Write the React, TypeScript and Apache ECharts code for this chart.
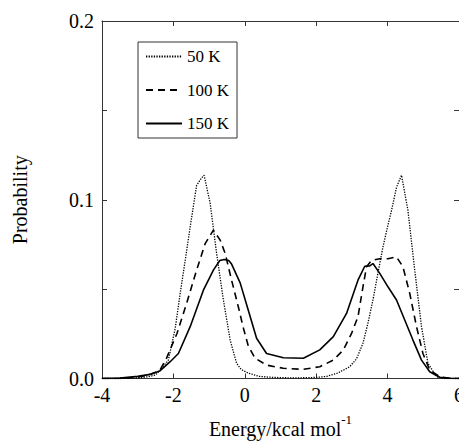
import React, { useEffect, useRef } from "react";
import * as echarts from "echarts";

const FONT = "Liberation Serif";

const seriesNames = ["50 K", "100 K", "150 K"];

const energy50 = [-4, -3.5, -3.0, -2.7, -2.5, -2.37, -2.14, -1.95, -1.81, -1.67, -1.53, -1.35, -1.22, -1.14, -0.97, -0.79, -0.6, -0.41, -0.23, -0.1, 0.1, 0.4, 0.8, 1.2, 1.6, 2.0, 2.3, 2.6, 2.94, 3.13, 3.31, 3.45, 3.59, 3.73, 3.87, 4.0, 4.11, 4.25, 4.39, 4.57, 4.76, 4.95, 5.13, 5.37, 5.6, 6.0];
const prob50 = [0, 0, 0.0003, 0.001, 0.002, 0.0047, 0.0103, 0.028, 0.0476, 0.066, 0.0848, 0.108, 0.112, 0.1137, 0.098, 0.07, 0.044, 0.0215, 0.0085, 0.005, 0.003, 0.0012, 0.0006, 0.0004, 0.0004, 0.0006, 0.0012, 0.003, 0.0066, 0.011, 0.0197, 0.031, 0.044, 0.059, 0.0736, 0.085, 0.094, 0.107, 0.1137, 0.094, 0.0606, 0.029, 0.0085, 0.001, 0, 0];

const energy100 = [-4, -3.5, -3.0, -2.7, -2.5, -2.37, -2.2, -1.9, -1.63, -1.35, -1.11, -0.88, -0.69, -0.55, -0.37, -0.18, -0.05, 0.1, 0.29, 0.61, 1.08, 1.64, 2.1, 2.48, 2.76, 2.99, 3.17, 3.31, 3.41, 3.55, 3.78, 4.01, 4.25, 4.43, 4.62, 4.81, 4.99, 5.18, 5.46, 5.8, 6.0];
const prob100 = [0, 0, 0.0008, 0.002, 0.0035, 0.005, 0.011, 0.0252, 0.042, 0.0606, 0.0755, 0.083, 0.0774, 0.07, 0.055, 0.04, 0.029, 0.018, 0.0113, 0.0075, 0.0057, 0.0051, 0.0066, 0.0103, 0.016, 0.0252, 0.0345, 0.0513, 0.0625, 0.066, 0.067, 0.067, 0.068, 0.0625, 0.0476, 0.029, 0.014, 0.0047, 0.001, 0, 0];

const energy150 = [-4, -3.5, -3.0, -2.65, -2.37, -2.09, -1.86, -1.53, -1.16, -0.88, -0.7, -0.58, -0.45, -0.37, -0.13, 0.1, 0.33, 0.61, 1.08, 1.64, 2.1, 2.48, 2.85, 3.17, 3.36, 3.5, 3.59, 3.78, 4.01, 4.25, 4.48, 4.71, 4.95, 5.18, 5.46, 5.8, 6.0];
const prob150 = [0, 0.0002, 0.0012, 0.0023, 0.0044, 0.0094, 0.014, 0.029, 0.0494, 0.0606, 0.066, 0.0666, 0.066, 0.064, 0.0535, 0.038, 0.0225, 0.014, 0.0116, 0.0113, 0.016, 0.0234, 0.0364, 0.055, 0.0628, 0.063, 0.0643, 0.0588, 0.0513, 0.0439, 0.0327, 0.0215, 0.0103, 0.0038, 0.0007, 0, 0];

const xMin = -4;
const xMax = 6;
const xStep = 2;
const yMin = 0;
const yMax = 0.2;
const yStep = 0.05;

const zip = (xs: number[], ys: number[]) => xs.map((x, i) => [x, ys[i]]);

export default function App() {
  const ref = useRef<HTMLDivElement>(null);
  useEffect(() => {
    if (!ref.current) return;
    const chart = echarts.init(ref.current, null, { renderer: "svg" });
    const axisColor = "#333";
    const axisLine = { show: true, onZero: false, lineStyle: { color: axisColor, width: 1 } };
    const axisTick = { show: true, inside: true, length: 5, lineStyle: { color: axisColor, width: 1 } };
    const lineStyles: any[] = [
      { color: "#000", width: 1.3, type: [1.3, 1.3] },
      { color: "#000", width: 1.6, type: [7, 5] },
      { color: "#000", width: 1.6, type: "solid" },
    ];
    const datas = [zip(energy50, prob50), zip(energy100, prob100), zip(energy150, prob150)];
    chart.setOption({
      animation: false,
      backgroundColor: "#fff",
      textStyle: { fontFamily: FONT },
      grid: { left: 102, top: 21, width: 357, height: 357.5, containLabel: false, outerBoundsMode: "none" },
      legend: {
        data: seriesNames,
        orient: "vertical",
        left: 138,
        top: 42,
        itemWidth: 36,
        itemHeight: 14,
        itemGap: 16.5,
        padding: [6, 8, 6, 7],
        borderColor: axisColor,
        borderWidth: 1,
        itemStyle: { opacity: 0, borderWidth: 0 },
        textStyle: { fontFamily: FONT, fontSize: 17, color: "#000", lineHeight: 16 },
      },
      xAxis: [
        {
          type: "value",
          min: xMin,
          max: xMax,
          interval: xStep,
          position: "bottom",
          axisLine,
          axisTick,
          splitLine: { show: false },
          axisLabel: { fontFamily: FONT, fontSize: 20, color: "#000", margin: 6 },
          name: "{a|Energy/kcal mol}{b|-1}",
          nameLocation: "middle",
          nameGap: 34,
          nameTextStyle: {
            fontFamily: FONT,
            fontSize: 20,
            color: "#000",
            rich: {
              a: { fontFamily: FONT, fontSize: 20, color: "#000", lineHeight: 26, verticalAlign: "bottom" },
              b: { fontFamily: FONT, fontSize: 13, color: "#000", lineHeight: 26, verticalAlign: "top" },
            },
          },
        },
        {
          type: "value",
          min: xMin,
          max: xMax,
          interval: xStep,
          position: "top",
          axisLine,
          axisTick,
          splitLine: { show: false },
          axisLabel: { show: false },
        },
      ],
      yAxis: [
        {
          type: "value",
          min: yMin,
          max: yMax,
          interval: yStep,
          position: "left",
          axisLine,
          axisTick,
          splitLine: { show: false },
          axisLabel: {
            fontFamily: FONT,
            fontSize: 20,
            color: "#000",
            margin: 8,
            formatter: (v: number) => (Math.round(v * 100) % 10 === 0 ? v.toFixed(1) : ""),
          },
          name: "Probability",
          nameLocation: "middle",
          nameGap: 72,
          nameTextStyle: { fontFamily: FONT, fontSize: 20, color: "#000" },
        },
        {
          type: "value",
          min: yMin,
          max: yMax,
          interval: yStep,
          position: "right",
          axisLine,
          axisTick,
          splitLine: { show: false },
          axisLabel: { show: false },
        },
      ],
      series: seriesNames.map((name, i) => ({
        name,
        type: "line",
        xAxisIndex: 0,
        yAxisIndex: 0,
        data: datas[i],
        symbol: "none",
        smooth: false,
        lineStyle: lineStyles[i],
        itemStyle: { color: "#000" },
      })),
    });
    return () => chart.dispose();
  }, []);
  return <div ref={ref} style={{ position: "absolute", left: 0, top: 0, width: 459, height: 441 }} />;
}
